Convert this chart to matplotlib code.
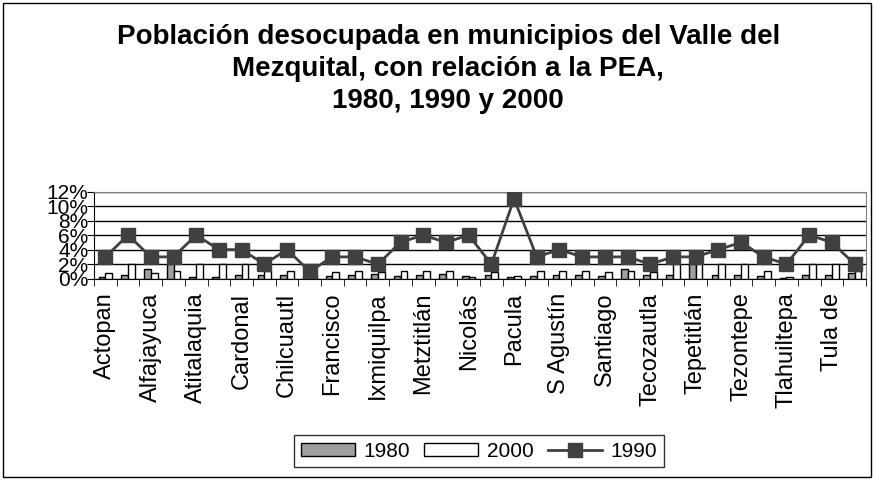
import matplotlib
matplotlib.use("Agg")
import matplotlib.pyplot as plt
import numpy as np
from matplotlib.patches import Rectangle
from matplotlib.ticker import FixedLocator, FuncFormatter

plt.rcParams['font.family'] = ['Liberation Sans', 'DejaVu Sans']

# municipios (sólo se muestran las etiquetas pares)
municipios = ["Actopan", "Ajacuba", "Alfajayuca", "Arenal", "Atitalaquia", "Atotonilco",
              "Cardonal", "Chapantongo", "Chilcuautl", "Eloxochitlán", "Francisco", "Huichapan",
              "Ixmiquilpa", "Juárez", "Metztitlán", "Mixquiahuala", "Nicolás", "Nopala",
              "Pacula", "Progreso", "S Agustín", "S Salvador", "Santiago", "Tasquillo",
              "Tecozautla", "Tepeji", "Tepetitlán", "Tetepango", "Tezontepe", "Tlahuelilpan",
              "Tlahuiltepa", "Tlaxcoapan", "Tula de", "Zimapán"]

# % desocupada respecto a la PEA
p1980 = [0.3, 0.5, 1.4, 2.0, 0.3, 0.3, 0.5, 0.5, 0.5, 0.3, 0.4, 0.5,
         0.6, 0.4, 0.5, 0.6, 0.4, 0.5, 0.3, 0.4, 0.5, 0.5, 0.4, 1.4,
         0.5, 0.5, 2.0, 0.5, 0.5, 0.4, 0.1, 0.5, 0.5, 0.8]
p2000 = [0.8, 2.0, 0.8, 1.0, 2.0, 2.0, 2.0, 1.0, 1.0, 0.5, 0.9, 1.0,
         0.9, 1.0, 1.0, 1.0, 0.2, 0.9, 0.4, 1.0, 1.0, 1.0, 0.9, 1.1,
         0.9, 2.0, 2.0, 2.0, 2.0, 1.0, 0.2, 2.0, 2.0, 1.0]
p1990 = [3, 6, 3, 3, 6, 4, 4, 2, 4, 1, 3, 3, 2, 5, 6, 5, 6, 2, 11, 3, 4, 3, 3, 3,
         2, 3, 3, 4, 5, 3, 2, 6, 5, 2]

x = np.arange(len(municipios))
w = 0.3

fig = plt.figure(figsize=(8.74, 4.8), dpi=100)
fig.patches.append(Rectangle((0.004, 0.006), 0.992, 0.988, transform=fig.transFigure,
                             fill=False, edgecolor='black', linewidth=1))

ax = fig.add_axes([0.1076, 0.4194, 0.8832, 0.1816])

ax.bar(x - w / 2, p1980, w, color='#a0a0a0', edgecolor='black', linewidth=1, label='1980', zorder=3)
ax.bar(x + w / 2, p2000, w, color='white', edgecolor='black', linewidth=1, label='2000', zorder=3)
ax.plot(x, p1990, color='#404040', linewidth=2, marker='s', markersize=10.5,
        markerfacecolor='#404040', markeredgecolor='#404040', label='1990', zorder=4)

ax.set_xlim(-0.5, len(municipios) - 0.5)
ax.set_ylim(0, 12)
ax.set_yticks(np.arange(0, 13, 2))
ax.yaxis.set_major_formatter(FuncFormatter(lambda v, p: f"{int(v)}%"))
ax.tick_params(axis='y', labelsize=15, length=5, direction='out', pad=-1)
ax.grid(axis='y', color='black', linewidth=1, zorder=0)

ax.set_xticks(x[::2])
ax.set_xticklabels(municipios[::2], rotation=90, fontsize=17)
ax.tick_params(axis='x', which='major', length=0, pad=10)
ax.xaxis.set_minor_locator(FixedLocator(np.arange(-0.5, len(municipios), 1)))
ax.tick_params(axis='x', which='minor', length=5, direction='out')

for s in ['top', 'right']:
    ax.spines[s].set_color('#808080')
ax.spines['left'].set_color('black')
ax.spines['bottom'].set_color('black')

fig.text(0.513, 0.95, "Población desocupada en municipios del Valle del\nMezquital, con relación a la PEA,\n1980, 1990 y 2000",
         ha='center', va='top', fontsize=20, fontweight='bold', linespacing=1.3)

h, l = ax.get_legend_handles_labels()
order = [1, 2, 0]
leg = fig.legend([h[i] for i in order], [l[i] for i in order], loc='center',
                 bbox_to_anchor=(0.548, 0.06), ncol=3, fontsize=15, frameon=True,
                 fancybox=False, edgecolor='black', handlelength=2.6, handleheight=0.55,
                 handletextpad=0.4, columnspacing=0.7, borderpad=0.3)
leg.get_frame().set_linewidth(1)

fig.savefig("out.png", dpi=100)
